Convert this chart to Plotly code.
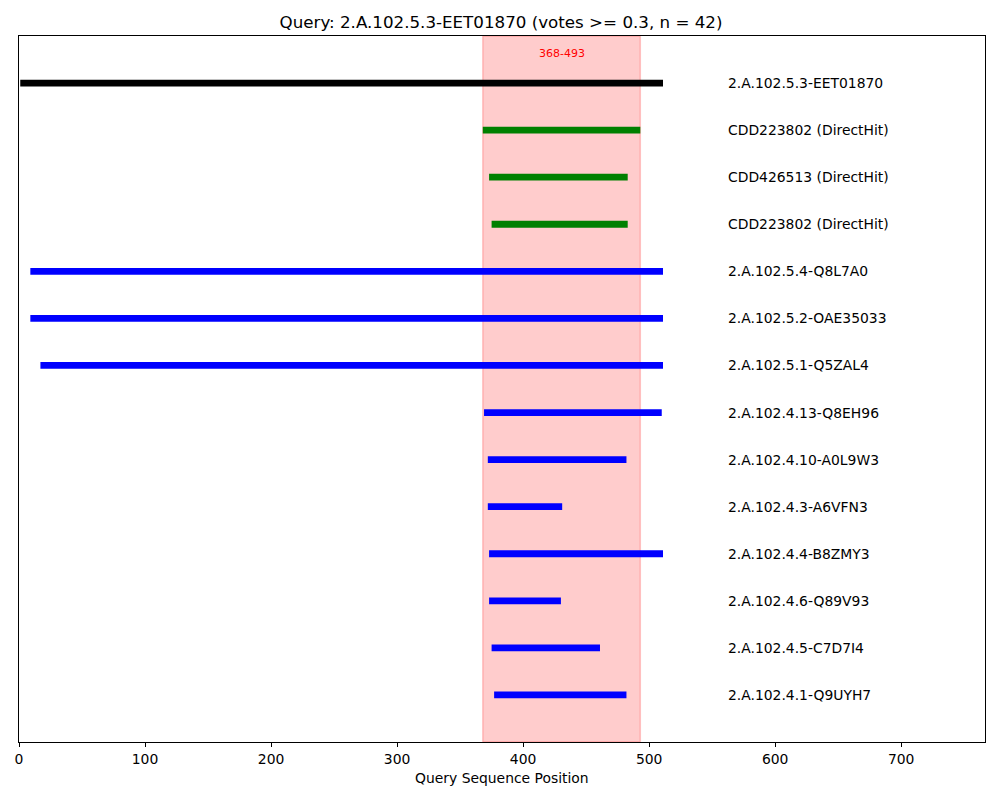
import plotly.graph_objects as go

# ---- data ----
query_name = "2.A.102.5.3-EET01870"
query_len = 511
votes = 0.3
n_hits = 42
region_start = 368
region_end = 493

names = [
    "2.A.102.5.3-EET01870",
    "CDD223802 (DirectHit)",
    "CDD426513 (DirectHit)",
    "CDD223802 (DirectHit)",
    "2.A.102.5.4-Q8L7A0",
    "2.A.102.5.2-OAE35033",
    "2.A.102.5.1-Q5ZAL4",
    "2.A.102.4.13-Q8EH96",
    "2.A.102.4.10-A0L9W3",
    "2.A.102.4.3-A6VFN3",
    "2.A.102.4.4-B8ZMY3",
    "2.A.102.4.6-Q89V93",
    "2.A.102.4.5-C7D7I4",
    "2.A.102.4.1-Q9UYH7",
]
starts = [1, 368, 373, 375, 9, 9, 17, 369, 372, 372, 373, 373, 375, 377]
ends = [511, 493, 483, 483, 511, 511, 511, 510, 482, 431, 511, 430, 461, 482]
kinds = ["query", "direct", "direct", "direct",
         "member", "member", "member", "member", "member",
         "member", "member", "member", "member", "member"]
x_ticks = [0, 100, 200, 300, 400, 500, 600, 700]

kind_color = {"query": "black", "direct": "green", "member": "blue"}
FONT = "DejaVu Sans"

fig = go.Figure()

# highlighted region
fig.add_shape(type="rect", xref="x", yref="paper",
              x0=region_start, x1=region_end, y0=0, y1=1,
              fillcolor="rgba(255,0,0,0.2)",
              line=dict(color="rgba(255,0,0,0.2)", width=1.5),
              layer="below")

for i, (nm, s, e, k) in enumerate(zip(names, starts, ends, kinds)):
    fig.add_trace(go.Scatter(x=[s, e], y=[i, i], mode="lines",
                             line=dict(color=kind_color[k], width=6.8),
                             hoverinfo="skip", showlegend=False))

label_x = query_len + 50
annotations = []
for i, nm in enumerate(names):
    annotations.append(dict(x=label_x, y=i, xref="x", yref="y", text=nm,
                            showarrow=False, xanchor="left", yanchor="middle",
                            font=dict(family=FONT, size=13.9, color="black")))

annotations.append(dict(x=(region_start + region_end) / 2, y=-0.62, xref="x", yref="y",
                        text=f"{region_start}-{region_end}", showarrow=False,
                        xanchor="center", yanchor="middle",
                        font=dict(family=FONT, size=11, color="red")))

annotations.append(dict(x=0.5, y=-36 / 706, xref="paper", yref="paper",
                        text="Query Sequence Position", showarrow=False,
                        xanchor="center", yanchor="middle",
                        font=dict(family=FONT, size=13.9, color="black")))

fig.update_layout(
    width=1000, height=800,
    margin=dict(l=19, r=15, t=36, b=58),
    paper_bgcolor="white", plot_bgcolor="white",
    title=dict(text=f"Query: {query_name} (votes >= {votes}, n = {n_hits})",
               x=501 / 1000, xanchor="center", xref="container",
               y=1 - 22 / 800, yanchor="middle", yref="container",
               font=dict(family=FONT, size=16.7, color="black")),
    annotations=annotations,
    showlegend=False,
)

fig.update_xaxes(range=[0, query_len * 1.5], tickvals=x_ticks,
                 ticks="outside", ticklen=4, tickwidth=1, tickcolor="black",
                 showline=True, linecolor="black", linewidth=1.2, mirror=True,
                 showgrid=False, zeroline=False,
                 tickfont=dict(family=FONT, size=13.9, color="black"))
fig.update_yaxes(range=[len(names), -1], showticklabels=False, ticks="",
                 showline=True, linecolor="black", linewidth=1.2, mirror=True,
                 showgrid=False, zeroline=False)

fig.write_html("out.html", config={"displayModeBar": False},
               post_script="document.body.style.margin='0px';document.body.style.overflow='hidden';")
